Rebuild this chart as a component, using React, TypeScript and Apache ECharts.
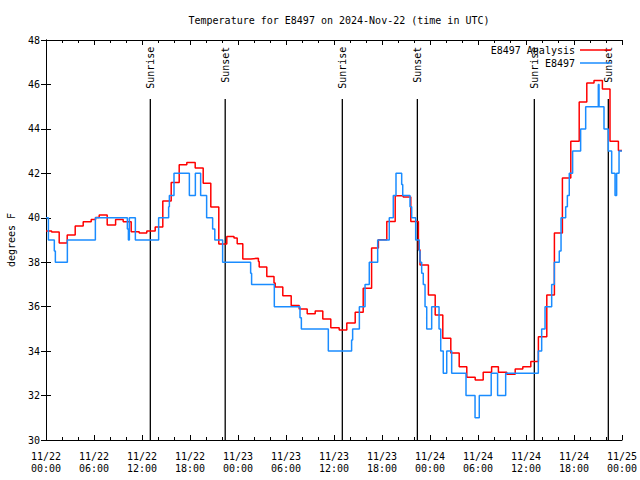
import React, { useEffect, useRef } from "react";
import * as echarts from "echarts";

// Analysis series (hours since 2024-11-22 00:00 UTC, degrees F)
const analysisHours = [0, 0.7, 1.65, 2.65, 3.65, 4.65, 5.65, 6.2, 6.65, 7.65, 8.7, 9.65, 10.65, 11.65, 12.6, 13.65, 14.6, 15.65, 16.65, 17.6, 18.65, 19.65, 20.6, 21.6, 22.6, 23.5, 23.9, 24.6, 25.6, 26.55, 26.65, 27.6, 28.5, 28.65, 29.6, 30.65, 31.65, 32.65, 33.65, 34.6, 35.6, 36.65, 37.6, 38.65, 39.65, 40.7, 41.55, 42.6, 43.65, 44.65, 45.6, 46.55, 46.75, 47.8, 48.65, 49.6, 50.6, 51.65, 52.6, 53.65, 54.65, 55.7, 56.55, 57.6, 58.65, 59.6, 60.6, 61.55, 62.6, 63.55, 64.55, 65.6, 66.65, 67.6, 68.5, 69.55, 70.5, 71.55, 72];
const analysisTemps = [39.41, 39.36, 38.86, 39.22, 39.63, 39.82, 39.92, 40.01, 40.12, 39.67, 39.92, 39.82, 39.37, 39.31, 39.4, 39.58, 40.75, 41.59, 42.39, 42.49, 42.24, 41.55, 40.48, 38.82, 39.16, 39.09, 38.83, 38.15, 38.18, 38.03, 37.78, 37.36, 37.06, 36.88, 36.49, 36.05, 35.89, 35.68, 35.81, 35.45, 35.05, 34.95, 35.26, 35.75, 36.83, 38.64, 39.01, 39.83, 40.99, 40.93, 39.83, 38.56, 37.88, 36.53, 35.63, 34.58, 33.91, 33.3, 32.82, 32.7, 33.05, 33.3, 33.05, 32.96, 33.2, 33.3, 33.53, 34.65, 36.53, 39.31, 41.79, 43.44, 45.21, 46.07, 46.18, 45.8, 43.44, 43.03, 43.03];

// Observed series
const obsHours = [0, 0.3, 1.04, 1.17, 2.67, 6.17, 10.17, 10.3, 10.42, 11.17, 14.08, 15.33, 15.42, 16.0, 17.92, 18.67, 19.33, 20.08, 20.83, 21.1, 22.08, 25.58, 25.7, 28.54, 31.75, 31.92, 35.29, 38.2, 38.33, 39.17, 39.88, 40.41, 41.46, 42.91, 43.41, 43.75, 44.46, 44.59, 45.5, 45.71, 46.21, 46.66, 46.75, 46.96, 47.16, 47.38, 47.59, 48.21, 49.13, 49.34, 49.66, 50.09, 50.71, 52.5, 53.63, 54.16, 55.65, 56.45, 57.46, 61.54, 61.96, 62.38, 63.21, 63.54, 64.16, 64.38, 64.96, 65.17, 65.41, 65.83, 66.83, 67.46, 69.04, 69.13, 69.75, 70.29, 70.71, 71.13, 71.33, 71.63, 72];
const obsTemps = [40, 39, 38.5, 38, 39, 40, 39.5, 39, 40, 39, 40, 40.5, 41, 42, 41, 42, 41, 40, 39.5, 39, 38, 37.5, 37, 36, 35.5, 35, 34, 34.5, 35, 36, 37, 38, 39, 40, 41, 42, 41.5, 41, 40.5, 40, 39, 38.5, 38, 37.5, 37, 36, 35, 36, 35, 34, 33, 34, 33, 32, 31, 32, 33, 32, 33, 34, 35, 36, 37, 38, 38.5, 40, 40.5, 41, 42, 43, 44, 45, 46, 45, 44, 43, 42, 41, 42, 43, 43];

// Sun events
const sunHours = [13.04, 22.4, 37.04, 46.42, 61.04, 70.29];
const sunLabels = ["Sunrise", "Sunset", "Sunrise", "Sunset", "Sunrise", "Sunset"];
const sunLineTop = 45.35;
const sunLabelTop = 47.7;

const xTickHours = [0, 6, 12, 18, 24, 30, 36, 42, 48, 54, 60, 66, 72];

const FONT = "DejaVu Sans Mono";

function fmtX(v: number): string {
  const day = 22 + Math.floor(v / 24);
  const h = Math.round(v % 24);
  return `11/${day}\n${String(h).padStart(2, "0")}:00`;
}

export default function App() {
  const ref = useRef<HTMLDivElement>(null);
  useEffect(() => {
    if (!ref.current) return;
    const chart = echarts.init(ref.current, null, { renderer: "svg" });
    const axisCommon = {
      axisLine: { show: true, lineStyle: { color: "#000", width: 1 } },
      splitLine: { show: false },
    };
    const legendCommon = {
      orient: "horizontal",
      right: 29,
      align: "right",
      itemWidth: 31,
      itemHeight: 1.5,
      icon: "rect",
      padding: 0,
      textStyle: { fontFamily: FONT, fontSize: 10, color: "#000", lineHeight: 12 },
    };
    chart.setOption({
      animation: false,
      backgroundColor: "#fff",
      title: {
        text: "Temperature for E8497 on 2024-Nov-22 (time in UTC)",
        left: 334,
        top: 10,
        textAlign: "center",
        textStyle: { fontFamily: FONT, fontSize: 10, fontWeight: "normal", color: "#000" },
      },
      legend: [
        { ...legendCommon, data: ["E8497 Analysis"], top: 44 },
        { ...legendCommon, data: ["E8497"], top: 57 },
      ],
      grid: { left: 46, right: 18, top: 40, bottom: 40, containLabel: false, outerBoundsMode: "none", show: false },
      xAxis: [
        {
          type: "value",
          min: 0,
          max: 72,
          interval: 6,
          position: "bottom",
          ...axisCommon,
          axisTick: { show: true, inside: true, length: 5, lineStyle: { color: "#000" } },
          minorTick: { show: true, splitNumber: 3, length: 3, lineStyle: { color: "#000" } },
          axisLabel: {
            formatter: (v: number) => (xTickHours.includes(v) ? fmtX(v) : ""),
            fontFamily: FONT,
            fontSize: 10,
            color: "#000",
            lineHeight: 12,
            margin: 10,
            showMinLabel: true,
            showMaxLabel: true,
          },
        },
        {
          type: "value",
          min: 0,
          max: 72,
          interval: 6,
          position: "top",
          ...axisCommon,
          axisTick: { show: true, inside: true, length: 5, lineStyle: { color: "#000" } },
          minorTick: { show: true, splitNumber: 3, length: 3, lineStyle: { color: "#000" } },
          axisLabel: { show: false },
        },
      ],
      yAxis: [
        {
          type: "value",
          min: 30,
          max: 48,
          interval: 2,
          position: "left",
          name: "degrees F",
          nameLocation: "middle",
          nameRotate: 90,
          nameGap: 30,
          nameTextStyle: { fontFamily: FONT, fontSize: 10, color: "#000" },
          ...axisCommon,
          axisTick: { show: true, inside: true, length: 5, lineStyle: { color: "#000" } },
          axisLabel: { fontFamily: FONT, fontSize: 10, color: "#000", margin: 6 },
        },
        {
          type: "value",
          min: 30,
          max: 48,
          interval: 2,
          position: "right",
          ...axisCommon,
          axisTick: { show: true, inside: true, length: 5, lineStyle: { color: "#000" } },
          axisLabel: { show: false },
        },
      ],
      series: [
        {
          type: "custom",
          name: "sun",
          xAxisIndex: 0,
          yAxisIndex: 0,
          z: 1,
          silent: true,
          data: sunHours.map((t) => [t, 30]),
          renderItem: (params: any, api: any) => {
            const t = api.value(0);
            const top = api.coord([t, sunLineTop]);
            const bottom = api.coord([t, 30]);
            const lab = api.coord([t, sunLabelTop]);
            return {
              type: "group",
              children: [
                {
                  type: "line",
                  shape: { x1: top[0], y1: top[1], x2: bottom[0], y2: bottom[1] },
                  style: { stroke: "#000", lineWidth: 1.3 },
                },
                {
                  type: "text",
                  x: lab[0],
                  y: lab[1],
                  rotation: Math.PI / 2,
                  style: {
                    text: sunLabels[params.dataIndex],
                    align: "right",
                    verticalAlign: "middle",
                    font: `10px "${FONT}"`,
                    fill: "#000",
                  },
                },
              ],
            };
          },
        },
        {
          name: "E8497 Analysis",
          type: "line",
          step: "end",
          showSymbol: false,
          symbol: "none",
          z: 2,
          color: "#ff0000",
          lineStyle: { color: "#ff0000", width: 1.5 },
          data: analysisHours.map((t, i) => [t, analysisTemps[i]]),
        },
        {
          name: "E8497",
          type: "line",
          step: "end",
          showSymbol: false,
          symbol: "none",
          z: 3,
          color: "#1a8cff",
          lineStyle: { color: "#1a8cff", width: 1.5 },
          data: obsHours.map((t, i) => [t, obsTemps[i]]),
        },
      ],
    });
    return () => chart.dispose();
  }, []);
  return <div ref={ref} style={{ width: 640, height: 480, position: "absolute", left: 0, top: 0 }} />;
}
